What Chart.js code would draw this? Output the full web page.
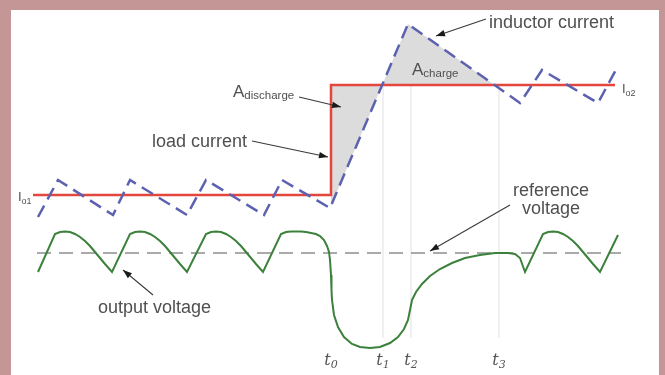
<!DOCTYPE html>
<html>
<head>
<meta charset="utf-8">
<script src="https://cdn.jsdelivr.net/npm/chart.js@4.4.0/dist/chart.umd.min.js"></script>
<style>
  html, body { margin: 0; padding: 0; }
  body { width: 665px; height: 375px; background: #c49696; position: relative; overflow: hidden; }
  #wrap { position: absolute; left: 11px; top: 10px; width: 648px; height: 365px; background: #fff; }
</style>
</head>
<body>
<div id="wrap"><canvas id="chart" width="648" height="365"></canvas></div>
<script>
// time axis in arbitrary units, levels in arbitrary units
const loadT = [33, 331, 331, 615];
const loadI = [180, 180, 290, 290];

const indT = [38, 58, 113, 130, 187, 206, 264, 282, 330, 408, 520, 542, 598, 618];
const indI = [158, 195, 160, 195, 160, 195, 160, 195, 167, 351, 272, 305, 272, 309];

// shaded A_discharge / A_charge region (follows the inductor ramp)
const areaT = [331, 408, 494.5];
const areaI = [169, 351, 290];

const voutT = [
  38, 55, 60, 65, 70, 75, 80, 85, 90, 95, 100, 105, 112,
  130, 135, 140, 145, 150, 155, 160, 165, 170, 175, 180, 187,
  206, 211, 216, 221, 226, 231, 236, 241, 246, 251, 256, 263,
  281, 286, 291, 296, 301, 306, 311, 316, 320, 324, 327, 329, 330, 331, 331.5,
  332, 334, 338, 344, 352, 360, 370, 380, 390, 398, 404, 408, 410, 412, 416,
  422, 430, 440, 452, 465, 480, 495, 508, 515, 520, 525,
  543, 548, 553, 558, 563, 568, 573, 578, 583, 588, 593, 600, 618
];
const voutV = [
  103, 141, 143, 143.5, 143, 141, 138, 134, 129, 123, 117, 111, 103,
  141, 143, 143.5, 143, 141, 138, 134, 129, 123, 117, 111, 103,
  141, 143, 143.5, 143, 141, 138, 134, 129, 123, 117, 111, 103,
  141, 143, 143.5, 143.5, 143.5, 143, 142, 141, 139, 135, 129, 123, 115, 100, 85,
  75, 60, 48, 38, 31, 28, 27, 28, 32, 38, 46, 55, 65, 75, 83,
  91, 99, 106, 112, 117, 120, 122, 122, 121, 117, 103,
  141, 143, 143.5, 143, 141, 138, 134, 129, 123, 117, 111, 103, 140
];

const refT = [37, 621];
const refV = [122, 122];

const markT = [331, 383, 411, 499];
const markSub = ["0", "1", "2", "3"];
const markBottom = 37;

const toXY = (xs, ys) => xs.map((x, i) => ({ x: x, y: ys[i] }));

function arrow(ctx, x1, y1, x2, y2) {
  ctx.beginPath();
  ctx.moveTo(x1, y1);
  ctx.lineTo(x2, y2);
  ctx.stroke();
  const a = Math.atan2(y2 - y1, x2 - x1);
  ctx.beginPath();
  ctx.moveTo(x2, y2);
  ctx.lineTo(x2 - 9 * Math.cos(a) + 3.2 * Math.sin(a), y2 - 9 * Math.sin(a) - 3.2 * Math.cos(a));
  ctx.lineTo(x2 - 9 * Math.cos(a) - 3.2 * Math.sin(a), y2 - 9 * Math.sin(a) + 3.2 * Math.cos(a));
  ctx.closePath();
  ctx.fill();
}

function subText(ctx, x, y, main, sub, mainFont, subFont, drop) {
  ctx.font = mainFont;
  ctx.fillText(main, x, y);
  const w = ctx.measureText(main).width;
  ctx.font = subFont;
  ctx.fillText(sub, x + w, y + drop);
}

const annotate = {
  id: "annotate",
  afterDatasetsDraw(chart) {
    const ctx = chart.ctx;
    const X = v => chart.scales.x.getPixelForValue(v);
    const Y = v => chart.scales.y.getPixelForValue(v);
    ctx.save();
    ctx.fillStyle = "#505050";
    ctx.textBaseline = "alphabetic";
    ctx.textAlign = "left";

    ctx.font = "18px 'Liberation Sans', Arial, sans-serif";
    ctx.fillText("inductor current", X(489), Y(347));
    ctx.fillText("load current", X(152), Y(228));
    ctx.fillText("output voltage", X(98), Y(62));
    ctx.textAlign = "center";
    ctx.fillText("reference", X(551), Y(179));
    ctx.fillText("voltage", X(551), Y(161));
    ctx.textAlign = "left";

    const sans = "'Liberation Sans', Arial, sans-serif";
    subText(ctx, X(233), Y(278), "A", "discharge", "17px " + sans, "11.5px " + sans, 2);
    subText(ctx, X(412), Y(300), "A", "charge", "17px " + sans, "11.5px " + sans, 2);
    subText(ctx, X(18), Y(174), "I", "o1", "13px " + sans, "9px " + sans, 3);
    subText(ctx, X(622), Y(282), "I", "o2", "13px " + sans, "9px " + sans, 3);

    // time markers under the plot
    ctx.fillStyle = "#555";
    markT.forEach((t, i) => {
      const mainFont = "italic 16px 'DejaVu Serif', serif";
      const subFont = "italic 11px 'DejaVu Serif', serif";
      ctx.font = mainFont;
      const w1 = ctx.measureText("t").width;
      ctx.font = subFont;
      const w2 = ctx.measureText(markSub[i]).width;
      subText(ctx, X(t) - (w1 + w2) / 2, Y(10), "t", markSub[i], mainFont, subFont, 3);
    });

    ctx.strokeStyle = "#3a3a3a";
    ctx.fillStyle = "#1a1a1a";
    ctx.lineWidth = 1.1;
    arrow(ctx, X(486), Y(356), X(436), Y(339));
    arrow(ctx, X(299), Y(278), X(341), Y(268));
    arrow(ctx, X(252), Y(234), X(328), Y(218));
    arrow(ctx, X(510), Y(170), X(430), Y(124));
    arrow(ctx, X(153), Y(80), X(123), Y(105));
    ctx.restore();
  }
};

const markerSets = markT.slice(1).map(t => ({
  label: "marker",
  data: toXY([t, t], [loadI[2], markBottom]),
  borderColor: "#e8e8e8",
  borderWidth: 1.3
}));

new Chart(document.getElementById("chart"), {
  type: "line",
  data: {
    datasets: [
      { label: "output voltage", data: toXY(voutT, voutV), borderColor: "#3b813b", borderWidth: 2 },
      { label: "reference voltage", data: toXY(refT, refV), borderColor: "#555", borderWidth: 1.2, borderDash: [14, 8] },
      { label: "inductor current", data: toXY(indT, indI), borderColor: "#5c61b0", borderWidth: 2.5, borderDash: [13, 7] },
      { label: "load current", data: toXY(loadT, loadI), borderColor: "#e3463d", borderWidth: 2.5 },
      {
        label: "area",
        data: toXY(areaT, areaI),
        borderColor: "rgba(0,0,0,0)",
        borderWidth: 0,
        backgroundColor: "#dcdcdc",
        fill: { value: loadI[2] }
      },
      ...markerSets
    ]
  },
  options: {
    responsive: false,
    animation: false,
    events: [],
    layout: { padding: 0 },
    elements: { point: { radius: 0 }, line: { tension: 0, borderCapStyle: "butt" } },
    scales: {
      x: { type: "linear", min: 11, max: 659, display: false },
      y: { type: "linear", min: 0, max: 365, display: false }
    },
    plugins: { legend: { display: false }, tooltip: { enabled: false } }
  },
  plugins: [annotate]
});
</script>
</body>
</html>
